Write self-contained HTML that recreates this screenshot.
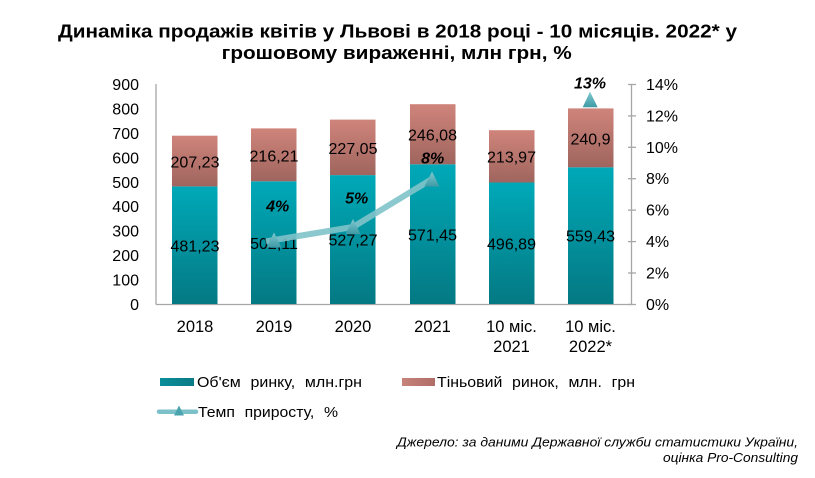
<!DOCTYPE html>
<html><head><meta charset="utf-8"><style>
html,body{margin:0;padding:0;background:#fff;}
svg{display:block;font-family:"Liberation Sans",Arial,sans-serif;}
</style></head><body>
<svg width="815" height="478" viewBox="0 0 815 478" xmlns="http://www.w3.org/2000/svg">
<defs>
<linearGradient id="gb" x1="0" y1="0" x2="0" y2="1"><stop offset="0" stop-color="#00a9b8"/><stop offset="1" stop-color="#047983"/></linearGradient>
<linearGradient id="gr" x1="0" y1="0" x2="0" y2="1"><stop offset="0" stop-color="#cf847b"/><stop offset="1" stop-color="#9f655e"/></linearGradient>
<linearGradient id="gt" x1="0" y1="0" x2="0" y2="1"><stop offset="0" stop-color="#7fc9d0"/><stop offset="1" stop-color="#3f9aa5"/></linearGradient>
<linearGradient id="gbl" x1="0" y1="0" x2="1" y2="0"><stop offset="0" stop-color="#0a8e99"/><stop offset="1" stop-color="#0a7a84"/></linearGradient>
<linearGradient id="grl" x1="0" y1="0" x2="1" y2="0"><stop offset="0" stop-color="#c5837a"/><stop offset="1" stop-color="#b06d66"/></linearGradient>
</defs>

<!-- Title -->
<g font-weight="bold" font-size="18.5" text-anchor="middle" fill="#000">
<text x="397.5" y="37.5" textLength="679" lengthAdjust="spacingAndGlyphs">Динаміка продажів квітів у Львові в 2018 році - 10 місяців. 2022* у</text>
<text x="396.7" y="59" textLength="350" lengthAdjust="spacingAndGlyphs">грошовому вираженні, млн грн, %</text>
</g>

<!-- Axes -->
<g stroke="#a6a6a6" stroke-width="1.3" fill="none">
<line x1="156" y1="84" x2="156" y2="304.5"/>
<line x1="156" y1="304.5" x2="631.5" y2="304.5"/>
<line x1="631.5" y1="84" x2="631.5" y2="304.5"/>
<line x1="628" y1="84.5" x2="636" y2="84.5"/>
<line x1="628" y1="115.9" x2="636" y2="115.9"/>
<line x1="628" y1="147.3" x2="636" y2="147.3"/>
<line x1="628" y1="178.7" x2="636" y2="178.7"/>
<line x1="628" y1="210.1" x2="636" y2="210.1"/>
<line x1="628" y1="241.6" x2="636" y2="241.6"/>
<line x1="628" y1="273" x2="636" y2="273"/>
<line x1="628" y1="304.5" x2="636" y2="304.5"/>
</g>

<!-- Left ticks -->
<g font-size="16" text-anchor="end" fill="#000">
<text x="139" y="90">900</text>
<text x="139" y="114.4">800</text>
<text x="139" y="138.9">700</text>
<text x="139" y="163.3">600</text>
<text x="139" y="187.8">500</text>
<text x="139" y="212.2">400</text>
<text x="139" y="236.7">300</text>
<text x="139" y="261.1">200</text>
<text x="139" y="285.6">100</text>
<text x="139" y="310">0</text>
</g>
<!-- Right ticks -->
<g font-size="16" fill="#000">
<text x="646" y="90">14%</text>
<text x="646" y="121.4">12%</text>
<text x="646" y="152.8">10%</text>
<text x="646" y="184.2">8%</text>
<text x="646" y="215.6">6%</text>
<text x="646" y="247.1">4%</text>
<text x="646" y="278.5">2%</text>
<text x="646" y="310">0%</text>
</g>

<!-- Bars -->
<g>
<rect x="172" y="186.4" width="45.5" height="117.6" fill="url(#gb)"/>
<rect x="172" y="135.7" width="45.5" height="50.7" fill="url(#gr)"/>
<rect x="251" y="181.3" width="45.5" height="122.7" fill="url(#gb)"/>
<rect x="251" y="128.4" width="45.5" height="52.9" fill="url(#gr)"/>
<rect x="330" y="175.1" width="45.5" height="128.9" fill="url(#gb)"/>
<rect x="330" y="119.6" width="45.5" height="55.5" fill="url(#gr)"/>
<rect x="410" y="164.3" width="45.5" height="139.7" fill="url(#gb)"/>
<rect x="410" y="104.2" width="45.5" height="60.1" fill="url(#gr)"/>
<rect x="489" y="182.5" width="45.5" height="121.5" fill="url(#gb)"/>
<rect x="489" y="130.2" width="45.5" height="52.3" fill="url(#gr)"/>
<rect x="568" y="167.3" width="45.5" height="136.7" fill="url(#gb)"/>
<rect x="568" y="108.4" width="45.5" height="58.9" fill="url(#gr)"/>
</g>

<!-- Value labels -->
<g font-size="16" text-anchor="middle" fill="#000">
<text x="195" y="251.5">481,23</text>
<text x="195" y="167.3">207,23</text>
<text x="274" y="249">502,11</text>
<text x="274" y="161.3">216,21</text>
<text x="353" y="245.7">527,27</text>
<text x="353" y="154.2">227,05</text>
<text x="432.5" y="240.5">571,45</text>
<text x="432.5" y="140.5">246,08</text>
<text x="511.5" y="249.5">496,89</text>
<text x="511.5" y="162.6">213,97</text>
<text x="590.5" y="241.5">559,43</text>
<text x="590.5" y="144.5">240,9</text>
</g>

<!-- Line series -->
<polyline points="266,241.5 274,240 353,227 432,179" fill="none" stroke="#80c3ca" stroke-width="6" stroke-linejoin="round" opacity="0.9"/>
<g fill="url(#gt)">
<polygon points="274,232.5 281.5,247.5 266.5,247.5"/>
<polygon points="353,219 360.5,234 345.5,234"/>
<polygon points="432,171.5 439.5,186.5 424.5,186.5"/>
<polygon points="590,91.7 597.7,107.3 582.7,107.3"/>
</g>

<!-- Percent labels -->
<g font-size="16" font-weight="bold" font-style="italic" text-anchor="middle" fill="#000">
<text x="277.7" y="211.5">4%</text>
<text x="356.7" y="203.5">5%</text>
<text x="432.7" y="163.5">8%</text>
<text x="590" y="88.5">13%</text>
</g>

<!-- X labels -->
<g font-size="16.5" text-anchor="middle" fill="#000">
<text x="195" y="332">2018</text>
<text x="274" y="332">2019</text>
<text x="353" y="332">2020</text>
<text x="432.5" y="332">2021</text>
<text x="511.5" y="332">10 міс.</text>
<text x="511.5" y="352">2021</text>
<text x="590.5" y="332">10 міс.</text>
<text x="590.5" y="352">2022*</text>
</g>

<!-- Legend -->
<rect x="160" y="378" width="34" height="8" fill="url(#gbl)"/>
<text x="197" y="387" font-size="15" fill="#000" word-spacing="5" textLength="165" lengthAdjust="spacingAndGlyphs">Об'єм ринку, млн.грн</text>
<rect x="402" y="378" width="33" height="8" fill="url(#grl)"/>
<text x="437" y="387" font-size="15" fill="#000" word-spacing="5" textLength="198" lengthAdjust="spacingAndGlyphs">Тіньовий ринок, млн. грн</text>
<line x1="159" y1="411.7" x2="196" y2="411.7" stroke="#7cc1c9" stroke-width="4.5" stroke-linecap="round"/>
<polygon points="179,405.5 184,415.5 174,415.5" fill="#4aa4ae"/>
<text x="198" y="417" font-size="15" fill="#000" word-spacing="5" textLength="140" lengthAdjust="spacingAndGlyphs">Темп приросту, %</text>

<!-- Source -->
<g font-size="13" font-style="italic" text-anchor="end" fill="#000">
<text x="798" y="446.5" textLength="401" lengthAdjust="spacingAndGlyphs">Джерело: за даними Державної служби статистики України,</text>
<text x="798" y="462" textLength="135" lengthAdjust="spacingAndGlyphs">оцінка Pro-Consulting</text>
</g>
</svg>
</body></html>
